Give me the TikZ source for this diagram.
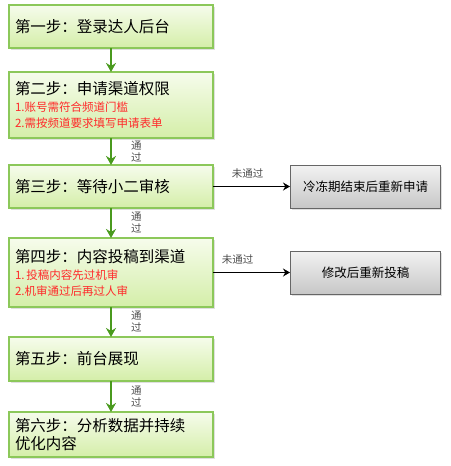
\documentclass[tikz,border=0pt]{standalone}
\usepackage{fontspec}
\newfontfamily\cjk{Noto Sans CJK SC}
\usepackage{xcolor}
\usepackage{tikz}
\usetikzlibrary{arrows.meta, positioning, shadows}
\definecolor{stepline}{HTML}{8CC85A}
\definecolor{steptop}{HTML}{F6FCEC}
\definecolor{stepbot}{HTML}{D4EEA8}
\definecolor{flowgreen}{HTML}{4A9A1E}
\definecolor{notered}{HTML}{FF2A2A}
\tikzstyle{stepbox} = [rectangle, draw=stepline, line width=1.2pt, outer sep=0pt, top color=steptop, bottom color=stepbot, text width=192pt, inner xsep=6pt, inner ysep=2pt, align=left, font=\cjk\fontsize{15.5}{20}\selectfont, drop shadow={shadow xshift=1.5pt, shadow yshift=-1.5pt, opacity=0.25}]
\tikzstyle{retrybox} = [rectangle, draw=black!60, line width=1pt, top color=black!5, bottom color=black!22, minimum width=150pt, minimum height=43pt, text centered, font=\cjk\fontsize{12.5}{15}\selectfont, drop shadow={shadow xshift=1.5pt, shadow yshift=-1.5pt, opacity=0.25}]
\tikzstyle{arrow} = [line width=2pt, flowgreen, -{Stealth[length=9pt, width=10pt]}]
\tikzstyle{failarrow} = [line width=1.6pt, black, -{Stealth[length=7pt, width=8pt]}]
\tikzstyle{passlabel} = [font=\cjk\fontsize{10.5}{12}\selectfont, text=black!70, align=center, inner sep=1pt]
\newcommand{\notetext}[1]{{\color{notered}\fontsize{11.5}{16}\selectfont #1}}

\begin{document}
\begin{tikzpicture}[x=1pt, y=1pt]
    \useasboundingbox (0,0) rectangle (450,-466);
    % Nodes
    \node (A) [stepbox, minimum height=43pt, anchor=north west] at (9,-5) {第一步：登录达人后台};
    \node (B) [stepbox, minimum height=66pt, below=24pt of A] {第二步：申请渠道权限\\[-3pt]\notetext{1.账号需符合频道门槛}\\[-4pt]\notetext{2.需按频道要求填写申请表单}};
    \node (C) [stepbox, minimum height=43pt, below=27pt of B] {第三步：等待小二审核};
    \node (D) [stepbox, minimum height=69pt, below=30pt of C] {第四步：内容投稿到渠道\\[-3pt]\notetext{1.\,投稿内容先过机审}\\[-4pt]\notetext{2.机审通过后再过人审}};
    \node (E) [stepbox, minimum height=44pt, below=30pt of D] {第五步：前台展现};
    \node (F) [stepbox, minimum height=45pt, below=31pt of E, font=\cjk\fontsize{15.5}{18}\selectfont] {第六步：分析数据并持续\\优化内容};

    % Retry boxes
    \node (C1) [retrybox, right=77pt of C] {冷冻期结束后重新申请};
    \node (D1) [retrybox, right=77pt of D] {修改后重新投稿};

    % Arrows
    \draw [arrow] (A) -- (B);
    \draw [arrow] (B) -- node[passlabel, right=18pt] {通\\过} (C);
    \draw [arrow] (C) -- node[passlabel, right=18pt] {通\\过} (D);
    \draw [arrow] (D) -- node[passlabel, right=18pt] {通\\过} (E);
    \draw [arrow] (E) -- node[passlabel, right=18pt] {通\\过} (F);

    \draw [failarrow] (C) -- node[passlabel, above=6pt, pos=0.45] {未通过} (C1);
    \draw [failarrow] (D) -- node[passlabel, above=6pt, pos=0.32] {未通过} (D1);
\end{tikzpicture}
\end{document}
